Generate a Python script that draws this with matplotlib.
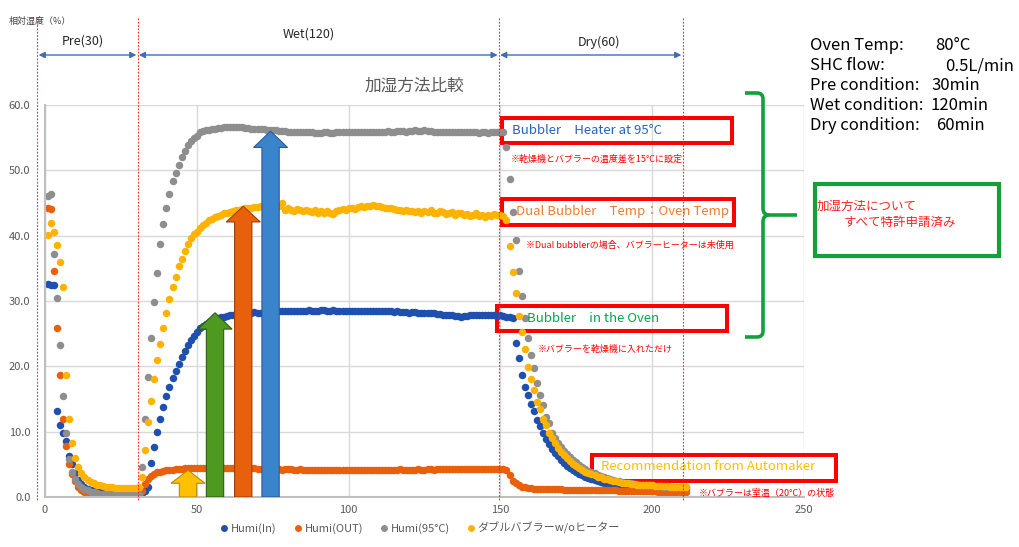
import numpy as np
import matplotlib
matplotlib.use("Agg")
import matplotlib.pyplot as plt
from matplotlib import transforms
from matplotlib.patches import Rectangle, FancyArrow, PathPatch
from matplotlib.path import Path
from matplotlib.lines import Line2D

plt.rcParams['font.family'] = ['Noto Sans CJK JP', 'DejaVu Sans']

# sample time (min)
minutes = np.arange(1, 212)

humi_in = [
    32.6, 32.5, 32.4, 13.2, 11.0, 9.8, 8.5, 6.3, 5.0, 3.6,
    2.6, 2.0, 1.6, 1.3, 1.1, 0.9, 0.8, 0.7, 0.6, 0.6,
    0.5, 0.5, 0.5, 0.5, 0.5, 0.5, 0.5, 0.5, 0.5, 0.5,
    0.5, 0.6, 0.9, 1.6, 5.2, 7.7, 10.0, 12.0, 13.8, 15.5,
    16.9, 18.2, 19.3, 20.4, 21.4, 22.4, 23.2, 24.0, 24.7, 25.3,
    25.8, 26.2, 26.5, 26.8, 27.0, 27.2, 27.4, 27.5, 27.6, 27.7,
    27.8, 27.9, 28.0, 28.1, 28.1, 28.2, 28.2, 28.2, 28.3, 28.2,
    28.2, 28.3, 28.3, 28.4, 28.4, 28.4, 28.5, 28.4, 28.5, 28.5,
    28.5, 28.5, 28.5, 28.4, 28.5, 28.5, 28.6, 28.5, 28.5, 28.5,
    28.6, 28.6, 28.5, 28.5, 28.6, 28.5, 28.5, 28.4, 28.5, 28.5,
    28.5, 28.4, 28.4, 28.5, 28.5, 28.4, 28.4, 28.5, 28.4, 28.4,
    28.4, 28.5, 28.4, 28.4, 28.3, 28.4, 28.3, 28.3, 28.3, 28.2,
    28.3, 28.3, 28.2, 28.2, 28.2, 28.1, 28.2, 28.1, 28.0, 28.0,
    27.9, 27.9, 27.8, 27.8, 27.7, 27.7, 27.6, 27.7, 27.7, 27.8,
    27.8, 27.8, 27.9, 27.8, 27.8, 27.9, 27.8, 27.8, 27.7, 27.8,
    27.7, 27.6, 27.6, 27.4, 23.5, 21.2, 18.7, 16.9, 15.6, 14.3,
    13.1, 11.8, 10.8, 9.8, 8.9, 8.1, 7.4, 6.8, 6.2, 5.7,
    5.2, 4.8, 4.4, 4.1, 3.8, 3.5, 3.3, 3.1, 2.9, 2.7,
    2.6, 2.4, 2.3, 2.2, 2.1, 2.0, 1.9, 1.8, 1.8, 1.7,
    1.7, 1.6, 1.6, 1.5, 1.5, 1.5, 1.4, 1.4, 1.4, 1.4,
    1.3, 1.3, 1.3, 1.3, 1.3, 1.3, 1.2, 1.2, 1.2, 1.2, 1.2,
]

humi_out = [
    44.2, 44.1, 34.6, 25.9, 18.6, 12.0, 7.8, 5.1, 3.5, 2.4,
    1.6, 1.1, 0.8, 0.6, 0.5, 0.4, 0.3, 0.3, 0.2, 0.2,
    0.2, 0.2, 0.2, 0.2, 0.2, 0.2, 0.2, 0.2, 0.2, 0.2,
    0.3, 0.9, 2.0, 2.7, 3.2, 3.5, 3.8, 3.9, 4.0, 4.1,
    4.2, 4.2, 4.3, 4.3, 4.3, 4.4, 4.4, 4.4, 4.4, 4.4,
    4.4, 4.5, 4.4, 4.4, 4.5, 4.4, 4.4, 4.4, 4.5, 4.4,
    4.4, 4.4, 4.4, 4.4, 4.4, 4.4, 4.3, 4.4, 4.4, 4.3,
    4.3, 4.3, 4.3, 4.3, 4.3, 4.3, 4.3, 4.2, 4.3, 4.3,
    4.3, 4.2, 4.2, 4.3, 4.2, 4.2, 4.2, 4.2, 4.2, 4.2,
    4.2, 4.2, 4.1, 4.2, 4.2, 4.2, 4.1, 4.2, 4.2, 4.2,
    4.2, 4.2, 4.2, 4.2, 4.2, 4.2, 4.2, 4.2, 4.2, 4.2,
    4.2, 4.2, 4.2, 4.2, 4.2, 4.2, 4.3, 4.2, 4.2, 4.2,
    4.2, 4.2, 4.3, 4.2, 4.2, 4.3, 4.3, 4.2, 4.3, 4.3,
    4.3, 4.3, 4.3, 4.3, 4.3, 4.3, 4.3, 4.3, 4.3, 4.3,
    4.3, 4.3, 4.3, 4.3, 4.3, 4.3, 4.3, 4.3, 4.3, 4.3,
    4.3, 4.2, 3.4, 2.5, 2.1, 1.8, 1.6, 1.5, 1.4, 1.4,
    1.3, 1.3, 1.3, 1.3, 1.2, 1.2, 1.2, 1.2, 1.2, 1.2,
    1.1, 1.1, 1.1, 1.1, 1.1, 1.1, 1.1, 1.1, 1.0, 1.0,
    1.0, 1.0, 1.0, 1.0, 1.0, 1.0, 1.0, 1.0, 0.9, 0.9,
    0.9, 0.9, 0.9, 0.9, 0.9, 0.9, 0.9, 0.9, 0.9, 0.9,
    0.9, 0.8, 0.8, 0.8, 0.8, 0.8, 0.8, 0.8, 0.8, 0.8, 0.8,
]

humi_95 = [
    46.1, 46.4, 37.2, 30.5, 23.2, 15.5, 9.8, 5.8, 3.8, 2.7,
    2.0, 1.5, 1.2, 1.0, 0.8, 0.7, 0.6, 0.5, 0.5, 0.4,
    0.4, 0.4, 0.4, 0.4, 0.4, 0.4, 0.4, 0.4, 0.4, 0.4,
    0.4, 4.6, 11.9, 18.4, 24.4, 29.9, 34.3, 38.7, 41.8, 44.3,
    46.4, 48.3, 49.6, 50.8, 52.0, 52.9, 53.9, 54.5, 54.9, 55.3,
    55.8, 56.0, 56.1, 56.2, 56.3, 56.4, 56.5, 56.5, 56.6, 56.6,
    56.7, 56.7, 56.7, 56.6, 56.6, 56.5, 56.5, 56.4, 56.4, 56.3,
    56.3, 56.3, 56.2, 56.2, 56.1, 56.1, 56.0, 56.0, 56.0, 55.9,
    55.9, 55.9, 55.9, 55.8, 55.8, 55.8, 55.8, 55.8, 55.7, 55.7,
    55.7, 55.8, 55.8, 55.7, 55.7, 55.8, 55.8, 55.8, 55.8, 55.9,
    55.8, 55.8, 55.9, 55.9, 55.8, 55.8, 55.9, 55.9, 55.9, 55.8,
    55.9, 55.9, 56.0, 55.9, 55.9, 56.0, 56.0, 56.0, 55.9, 56.0,
    56.0, 56.1, 56.0, 56.0, 56.1, 56.0, 56.0, 55.9, 55.9, 55.9,
    55.9, 55.8, 55.9, 55.9, 55.9, 55.8, 55.9, 55.9, 55.9, 55.8,
    55.8, 55.8, 55.7, 55.8, 55.8, 55.7, 55.8, 55.9, 55.9, 55.9,
    55.8, 53.6, 48.7, 43.6, 39.3, 34.6, 30.7, 27.4, 24.3, 21.7,
    19.7, 17.4, 15.6, 14.1, 12.3, 11.3, 9.8, 9.0, 8.3, 7.7,
    7.1, 6.6, 6.1, 5.7, 5.3, 4.9, 4.6, 4.3, 4.0, 3.8,
    3.6, 3.4, 3.2, 3.0, 2.9, 2.7, 2.6, 2.5, 2.4, 2.3,
    2.2, 2.2, 2.1, 2.0, 2.0, 1.9, 1.9, 1.8, 1.8, 1.8,
    1.7, 1.7, 1.7, 1.6, 1.6, 1.6, 1.6, 1.6, 1.5, 1.5, 1.5,
]

dual_no_heater = [
    40.1, 42.0, 40.6, 38.5, 35.9, 32.2, 18.7, 12.0, 8.2, 5.9,
    4.6, 3.6, 3.0, 2.6, 2.3, 2.1, 1.9, 1.8, 1.7, 1.6,
    1.5, 1.5, 1.4, 1.4, 1.4, 1.4, 1.4, 1.4, 1.4, 1.4,
    1.6, 3.1, 7.2, 11.5, 14.7, 18.0, 20.9, 23.4, 25.9, 28.1,
    30.3, 32.1, 33.7, 35.4, 36.5, 37.6, 38.7, 39.6, 40.2, 40.6,
    41.1, 41.6, 42.0, 42.4, 42.6, 42.8, 43.0, 43.2, 43.4, 43.5,
    43.6, 43.8, 43.9, 43.9, 44.1, 44.2, 44.3, 44.3, 44.4, 44.4,
    44.5, 44.4, 44.6, 44.5, 44.7, 44.3, 44.6, 45.0, 43.9, 44.2,
    44.0, 43.8, 44.1, 43.9, 43.7, 44.0, 43.8, 43.6, 43.9, 43.5,
    43.8, 43.4, 43.7, 43.5, 43.3, 43.7, 43.9, 44.1, 44.0, 44.2,
    44.3, 44.1, 44.4, 44.5, 44.4, 44.6, 44.5, 44.7, 44.6, 44.5,
    44.4, 44.3, 44.2, 44.3, 44.1, 43.9, 44.0, 43.8, 43.9, 43.7,
    43.8, 43.6, 43.8, 43.5, 43.7, 43.6, 43.9, 43.5, 43.4, 43.7,
    43.6, 43.3, 43.5, 43.6, 43.2, 43.4, 43.5, 43.1, 43.3, 43.0,
    43.2, 43.4, 43.0, 43.1, 42.9, 43.2, 43.0, 43.3, 43.1, 43.2,
    43.0, 42.4, 38.4, 34.5, 31.2, 27.7, 25.3, 22.6, 19.9, 18.0,
    16.4, 14.6, 13.4, 12.0, 11.0, 9.8, 9.0, 8.2, 7.5, 6.9,
    6.4, 5.9, 5.5, 5.1, 4.8, 4.5, 4.2, 3.9, 3.7, 3.5,
    3.3, 3.1, 3.0, 2.8, 2.7, 2.6, 2.5, 2.4, 2.3, 2.2,
    2.2, 2.1, 2.0, 2.0, 1.9, 1.9, 1.9, 1.8, 1.8, 1.8,
    1.7, 1.7, 1.7, 1.7, 1.7, 1.6, 1.6, 1.6, 1.6, 1.6, 1.6,
]

series = [humi_in, humi_out, humi_95, dual_no_heater]
series_names = ['Humi(In)', 'Humi(OUT)', 'Humi(95°C)', 'ダブルバブラーw/oヒーター']
series_colors = ['#1F4FAF', '#E8600C', '#8E8E8E', '#FFB300']

# test phases (boundaries in minutes, as drawn on the original)
phase_edges = [-2.5, 30.5, 149.5, 210]
phase_labels = ['Pre(30)', 'Wet(120)', 'Dry(60)']
phase_label_x = [12.5, 86.8, 182.5]

# block arrows marking the plateau levels
arrow_x = [47.1, 56.0, 65.3, 74.3]
arrow_top = [4.1, 28.2, 44.5, 56.0]
arrow_head = [2.0, 2.5, 2.4, 2.5]
arrow_colors = ['#FFC000', '#4E9A21', '#E8600C', '#3A84CB']
arrow_edges = ['#B98A00', '#2F5E12', '#9E3F05', '#2F5A96']

box_texts = ['Bubbler\u3000Heater at 95°C', 'Dual Bubbler\u3000Temp：Oven Temp',
             'Bubbler\u3000in the Oven', 'Recommendation from Automaker']
box_text_colors = ['#2563BE', '#ED7D31', '#00A850', '#FFC000']
notes = ['※乾燥機とバブラーの温度差を15°Cに設定', '※Dual bubblerの場合、バブラーヒーターは未使用',
         '※バブラーを乾燥機に入れただけ', '※バブラーは室温（20°C）の状態']

info_labels = ['Oven Temp:', 'SHC flow:', 'Pre condition:', 'Wet condition:', 'Dry condition:']
info_values = ['80°C', '0.5L/min', '30min', '120min', '60min']

W, H = 1020, 547
fig = plt.figure(figsize=(W / 100, H / 100), dpi=100)
ax = fig.add_axes([45 / W, 50 / H, 759 / W, 392 / H])
# pixel coordinates measured from the top-left corner
px = transforms.Affine2D().scale(1 / W, -1 / H).translate(0, 1) + fig.transFigure
xpx = transforms.blended_transform_factory(ax.transData, px)

for vals, name, col in zip(series, series_names, series_colors):
    ax.plot(minutes, vals, 'o', ms=5.4, color=col, mec='none', label=name, zorder=2)

ax.set_xlim(0, 250)
ax.set_ylim(0, 60)
ax.set_xticks(np.arange(0, 251, 50))
ax.set_yticks(np.arange(0, 61, 10))
ax.set_yticklabels([f'{v:.1f}' for v in np.arange(0, 61, 10)])
ax.tick_params(length=0, labelsize=8, colors='#595959')
ax.tick_params(axis='y', pad=10.5)
ax.tick_params(axis='x', pad=6)
ax.grid(True, color='#D9D9D9', lw=1)
ax.set_axisbelow(True)
for side in ['top', 'right']:
    ax.spines[side].set_visible(False)
for side in ['left', 'bottom']:
    ax.spines[side].set_color('#BFBFBF')
    ax.spines[side].set_linewidth(1.5)

for x, top, hl, fc, ec in zip(arrow_x, arrow_top, arrow_head, arrow_colors, arrow_edges):
    ax.add_patch(FancyArrow(x, 0, 0, top, width=5.7, head_width=11.2, head_length=hl,
                            length_includes_head=True, fc=fc, ec=ec, lw=0.8, zorder=3))

# phase markers
for e in phase_edges:
    ax.plot([e, e], [18, 500], transform=xpx, color='#FF2020', lw=0.8,
            ls=(0, (1.5, 1.5)), clip_on=False, zorder=5)
for i, lab in enumerate(phase_labels):
    ax.annotate('', xy=(phase_edges[i] + 0.4, 55), xytext=(phase_edges[i + 1] - 0.4, 55),
                xycoords=xpx, textcoords=xpx,
                arrowprops=dict(arrowstyle='<|-|>', color='#3F6DB5', lw=1,
                                mutation_scale=9, shrinkA=0, shrinkB=0))
    ax.text(phase_label_x[i], [41.5, 34, 42][i], lab, transform=xpx, ha='center',
            va='center', fontsize=9, color='#262626')

fig.text(9 / W, 1 - 21.5 / H, '相対湿度（%）', fontsize=6.5, color='#404040', va='center')
fig.text(414 / W, 1 - 86 / H, '加湿方法比較', fontsize=12, color='#595959', ha='center', va='center')

# red call-out boxes
box_rects = [(502, 118, 732, 143), (502, 199, 734, 225), (497, 306, 727, 331), (592, 455, 836, 481)]
box_text_pos = [(512, 131), (516, 211), (527, 318), (601, 466)]
note_pos = [(511, 159), (526, 245), (538, 349), (699, 493)]
for (x0, y0, x1, y1), (tx, ty), txt, col in zip(box_rects, box_text_pos, box_texts, box_text_colors):
    ax.add_patch(Rectangle((x0, y1), x1 - x0, y0 - y1, transform=px, fill=False,
                           ec='#FF0000', lw=2.9, clip_on=False, zorder=1.5))
    ax.text(tx, ty, txt, transform=px, fontsize=9.5, color=col, va='center', zorder=4)
for (nx, ny), txt in zip(note_pos, notes):
    ax.text(nx, ny, txt, transform=px, fontsize=6.5, color='#FF0000', va='center', zorder=4)

# green brace and patent box
green = '#13A03C'
P = Path
brace_top = Path([(745, 93), (757, 93), (763, 93), (763, 99), (763, 208), (763, 215), (769, 215), (797, 215)],
                 [P.MOVETO, P.LINETO, P.CURVE3, P.CURVE3, P.LINETO, P.CURVE3, P.CURVE3, P.LINETO])
brace_bot = Path([(769, 215), (763, 215), (763, 222), (763, 331), (763, 337), (757, 337), (745, 337)],
                 [P.MOVETO, P.CURVE3, P.CURVE3, P.LINETO, P.CURVE3, P.CURVE3, P.LINETO])
for pth in [brace_top, brace_bot]:
    fig.add_artist(PathPatch(pth, transform=px, fill=False, ec=green, lw=2.6, capstyle='butt'))
fig.add_artist(Rectangle((815, 256), 184, -72, transform=px, fill=False, ec=green, lw=3))
fig.text(817 / W, 1 - 206 / H, '加湿方法について', fontsize=9, color='#FF2020', va='center')
fig.text(844 / W, 1 - 222 / H, 'すべて特許申請済み', fontsize=9, color='#FF2020', va='center')

# test conditions
info_value_x = [935, 945, 931, 931, 936]
for i, (lab, val) in enumerate(zip(info_labels, info_values)):
    y = 1 - (46 + 20 * i) / H
    fig.text(810 / W, y, lab, fontsize=12, color='black', va='center')
    fig.text(info_value_x[i] / W, y, val, fontsize=12, color='black', va='center')

handles = [Line2D([], [], ls='none', marker='o', ms=5, color=c, mec='none') for c in series_colors]
leg = fig.legend(handles, series_names, loc='center', bbox_to_anchor=(420 / W, 1 - 528 / H),
                 ncol=4, frameon=False, fontsize=8, handlelength=0.8, handletextpad=0.2,
                 columnspacing=1.5, borderaxespad=0)
for t in leg.get_texts():
    t.set_color('#595959')

fig.savefig('out.png', dpi=100, facecolor='white')
